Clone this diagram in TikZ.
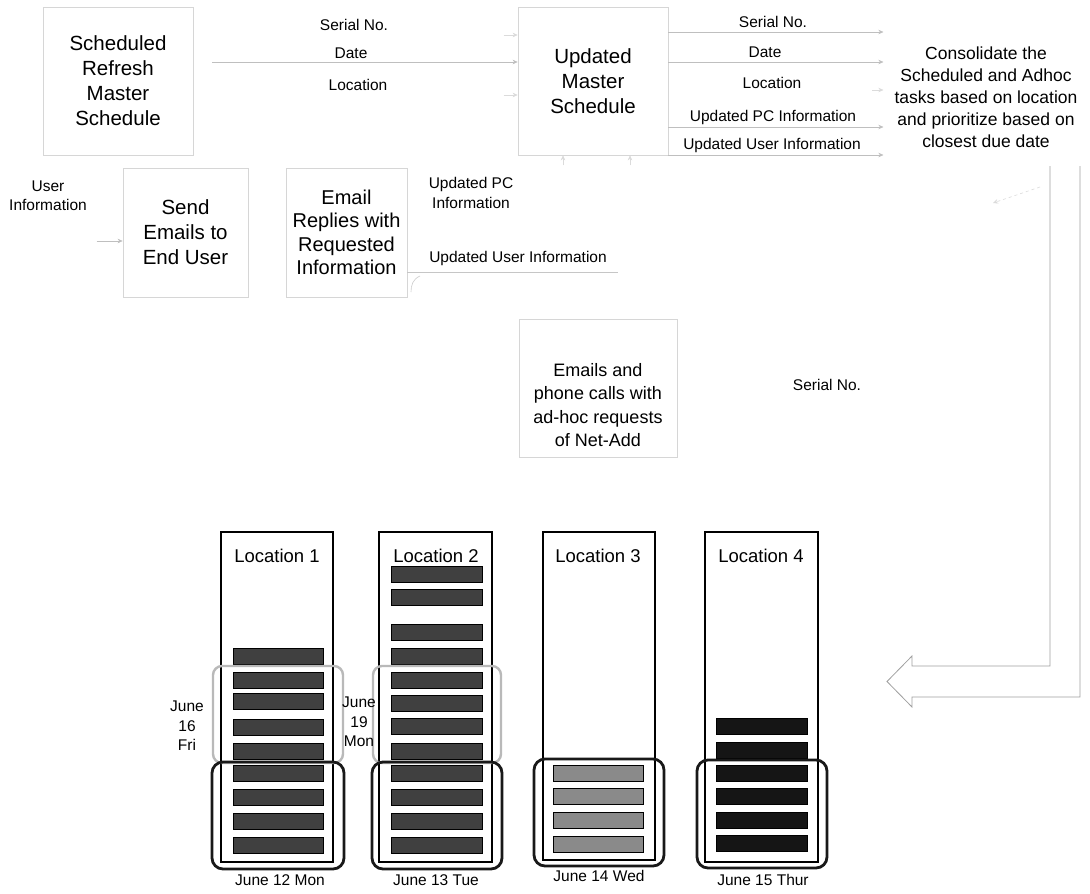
\documentclass[tikz,border=0pt]{standalone}
\usepackage{fontspec}
\setmainfont{Liberation Sans}
\usetikzlibrary{arrows.meta}
\definecolor{barA}{HTML}{404040}
\definecolor{barB}{HTML}{8A8A8A}
\definecolor{barC}{HTML}{151515}
\begin{document}
\begin{tikzpicture}[x=1pt,y=-1pt,
  procbox/.style={draw=gray!32, line width=0.7pt, fill=white, inner sep=0pt, align=center, text=black, font=\fontsize{20.5}{25}\selectfont},
  lbl/.style={inner sep=0pt, align=center, text=black, font=\fontsize{15.5}{19.5}\selectfont},
  locl/.style={inner sep=0pt, text=black, font=\fontsize{18.5}{22}\selectfont},
  flow/.style={draw=gray!50, line width=0.6pt, -{Stealth[length=5pt,width=4.5pt]}},
  faintflow/.style={draw=gray!28, line width=0.6pt, -{Stealth[length=5pt,width=4.5pt]}},
  loccol/.style={draw=black, line width=1.1pt, fill=white},
  bar/.style={draw=black, line width=0.8pt},
  grayround/.style={draw=gray!55, line width=2.4pt, rounded corners=9pt},
  blackround/.style={draw=black!90, line width=2.8pt, rounded corners=11pt},
]
\useasboundingbox (0,0) rectangle (1090,894);
\fill[white] (0,0) rectangle (1090,894);

% ---------- process boxes ----------
\node[procbox, minimum width=150pt, minimum height=148pt] (box1) at (118,81) {Scheduled\\Refresh\\Master\\Schedule};
\node[procbox, minimum width=150pt, minimum height=148pt] (box2) at (593,81) {Updated\\Master\\Schedule};
\node[procbox, minimum width=125pt, minimum height=129pt] (send) at (185.5,232.5) {Send\\Emails to\\End User};
\node[procbox, minimum width=121pt, minimum height=129pt, font=\fontsize{20}{23.5}\selectfont] (email) at (346.5,232.5) {Email\\Replies with\\Requested\\Information};
\node[procbox, minimum width=158pt, minimum height=138pt] (adhoc) at (598,388) {};
\node[lbl, font=\fontsize{18}{23.5}\selectfont] (adhoctxt) at (598,405) {Emails and\\phone calls with\\ad-hoc requests\\of Net-Add};

\node[lbl, font=\fontsize{17.5}{22}\selectfont] (consol) at (986,97.5) {Consolidate the\\Scheduled and Adhoc\\tasks based on location\\and prioritize based on\\closest due date};

% ---------- labels ----------
\node[lbl] (l1) at (354,25) {Serial No.};
\node[lbl] (l2) at (351,53) {Date};
\node[lbl] (l3) at (358,85) {Location};
\node[lbl] (r1) at (773,22) {Serial No.};
\node[lbl] (r2) at (765,52) {Date};
\node[lbl] (r3) at (772,83) {Location};
\node[lbl] (r4) at (773,117) {Updated PC Information};
\node[lbl] (r5) at (772,145) {Updated User Information};
\node[lbl] (uinfo) at (48,195.5) {User\\Information};
\node[lbl] (updpc) at (471,193) {Updated PC\\Information};
\node[lbl] (upduser) at (518,258) {Updated User Information};
\node[lbl] (serial) at (827,385) {Serial No.};

% ---------- connectors ----------
\draw[flow, shorten <=19pt] (box1.east |- 0,62) -- (box2.west |- 0,62);
\draw[faintflow] (box2.west |- 0,35) ++(-14,0) -- (box2.west |- 0,35);
\draw[faintflow] (box2.west |- 0,95) ++(-14,0) -- (box2.west |- 0,95);
\foreach \yy in {32,62,127,155}
  \draw[flow, shorten >=11pt] (box2.east |- 0,\yy) -- (consol.west |- 0,\yy);
\draw[faintflow, shorten >=11pt] (consol.west |- 0,90) ++(-22,0) -- (consol.west |- 0,90);
\draw[flow] (send.west |- 0,241) ++(-26,0) -- (send.west |- 0,241);
\draw[draw=gray!45, line width=0.6pt] (email.east |- 0,272) -- ++(211,0);
\draw[draw=gray!40, line width=0.6pt] (420,276) .. controls (413,279) and (411,285) .. (411,292);
\draw[faintflow] (box2.south -| 563,0) ++(0,10) -- (box2.south -| 563,0);
\draw[faintflow] (box2.south -| 630,0) ++(0,10) -- (box2.south -| 630,0);
\draw[faintflow, dashed] (1040,187) -- (993,203);

% ---------- big hollow arrow ----------
\draw[gray!75, line width=0.8pt] (1050,166) -- (1050,666) -- (912,666) -- (912,656) -- (887,681.5) -- (912,707) -- (912,697) -- (1080,697) -- (1080,166);

% ---------- location columns ----------
\draw[loccol] (221,532) rectangle (333,862);
\draw[loccol] (379,532) rectangle (492,862);
\draw[loccol] (543,532) rectangle (655,860);
\draw[loccol] (705,532) rectangle (818,862);
\node[locl] (loc1) at (277,556) {Location 1};
\node[locl] (loc2) at (436,556) {Location 2};
\node[locl] (loc3) at (598,556) {Location 3};
\node[locl] (loc4) at (761,556) {Location 4};

\foreach \t in {648,672,693,719,743,765,789,813,837}
  \draw[bar, fill=barA] (233,\t) rectangle (323,\t+16);
\foreach \t in {566,589,624,648,672,695,718,743,765,789,813,837}
  \draw[bar, fill=barA] (391,\t) rectangle (482,\t+16);
\foreach \t in {765,788,812,836}
  \draw[bar, fill=barB] (553,\t) rectangle (643,\t+16);
\foreach \t in {718,742,765,788,812,835}
  \draw[bar, fill=barC] (716,\t) rectangle (807,\t+16);

\draw[grayround] (213,666) rectangle (343,763);
\draw[grayround] (373,666) rectangle (501,763);
\draw[blackround] (212,762) rectangle (344,869);
\draw[blackround] (372,762) rectangle (502,869);
\draw[blackround] (534,759) rectangle (664,866);
\draw[blackround] (697,760) rectangle (827,868);

\node[lbl] (d16) at (187,726) {June\\16\\Fri};
\node[lbl] (d19) at (359,722) {June\\19\\Mon};
\node[lbl] (d12) at (280,880) {June 12 Mon};
\node[lbl] (d13) at (436,880) {June 13 Tue};
\node[lbl] (d14) at (599,876) {June 14 Wed};
\node[lbl] (d15) at (763,880) {June 15 Thur};
\end{tikzpicture}
\end{document}
